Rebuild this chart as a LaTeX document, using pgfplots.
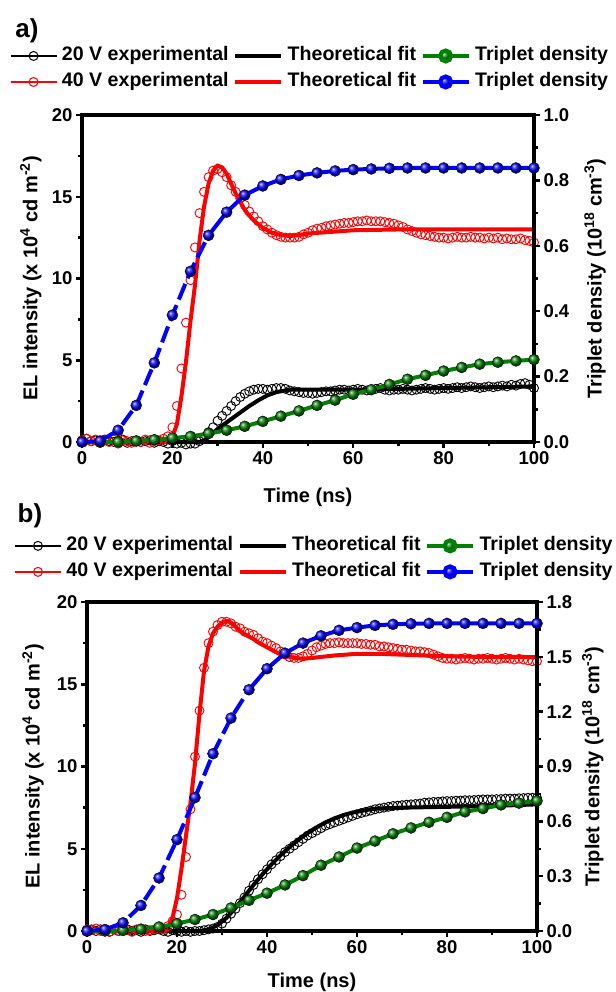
\documentclass[border=0pt]{standalone}
\usepackage{fontspec}
\setmainfont{Liberation Sans}
\usepackage{pgfplots}
\pgfplotsset{compat=1.18}
\definecolor{tgreen}{RGB}{0,128,0}
\pgfplotsset{
 base/.style={scale only axis, xmin=0, xmax=100, clip=false,
   tick align=outside, major tick length=6pt, minor tick length=4pt,
   every tick/.style={black, line width=2.5pt},
   axis line style={line width=3.5pt},
   tick label style={font=\fontsize{18.5}{20}\selectfont\bfseries},
   label style={font=\fontsize{20}{24}\selectfont\bfseries},
   /pgf/number format/assume math mode=true},
 exp/.style={only marks, mark=o, mark size=4.5pt, mark options={line width=0.9pt, solid}},
 expleg/.style={line width=1.8pt, mark=o, mark size=4.5pt, mark options={line width=1pt, solid, fill=white}},
 fit/.style={line width=4pt, no markers},
 trip/.style={line width=4pt, mark=ball, mark size=5.5pt},
 legend image code/.code={\draw[mark repeat=2,mark phase=2,#1] plot coordinates {(0pt,0pt) (23pt,0pt) (46pt,0pt)};},
 mylegend/.style={legend columns=3, legend cell align=left,
   legend style={draw=none, fill=none, inner sep=0pt, outer sep=0pt,
     font=\fontsize{19.6}{22}\selectfont\bfseries,
     nodes={inner sep=0pt, outer sep=0pt, text height=14pt, text depth=4pt},
     row sep=8pt, column sep=0pt,
     /tikz/every odd column/.append style={column sep=4.5pt},
     /tikz/every even column/.append style={column sep=4.5pt}}},
}
\begin{document}
\begin{tikzpicture}
\useasboundingbox (0pt,0pt) rectangle (615pt,-992pt);
% ---------------- panel a, left axis
\begin{axis}[base, at={(82pt,-442pt)}, anchor=south west, width=452pt, height=327pt,
  ymin=0, ymax=20, ytick={0,5,10,15,20}, xtick={0,20,40,60,80,100}, minor tick num=1,
  xtick pos=bottom, ytick pos=left,
  xlabel={Time (ns)}, ylabel={EL intensity (x 10\textsuperscript{4} cd m\textsuperscript{-2})},
  xlabel style={at={(axis description cs:0.5,-0.168)}, anchor=center},
  ylabel style={at={(axis description cs:-0.113,0.5)}, anchor=center}]
\addplot[exp, black] coordinates {(0,0.1)(1,0.2)(2,0.05)(3,0.1)(4,-0.05)(5,0.15)(6,0.05)(7,0.0)(8,0.1)(9,0.15)(10,-0.05)(11,0.05)(12,0.1)(13,0.0)(14,0.05)(15,0.1)(16,-0.05)(17,0.05)(18,0.0)(19,-0.1)(20,0.05)(21,-0.1)(22,-0.05)(23,-0.15)(24,-0.1)(25,-0.1)(26,0.05)(27,0.3)(28,0.6)(29,0.9)(30,1.3)(31,1.6)(32,1.9)(33,2.2)(34,2.5)(35,2.75)(36,2.95)(37,3.1)(38,3.2)(39,3.25)(40,3.25)(41,3.2)(42,3.25)(43,3.3)(44,3.3)(45,3.25)(46,3.15)(47,3.1)(48,3.05)(49,3.0)(50,3.0)(51,2.95)(52,3.0)(53,3.05)(54,3.1)(55,3.1)(56,3.15)(57,3.2)(58,3.2)(59,3.15)(60,3.2)(61,3.25)(62,3.2)(63,3.15)(64,3.2)(65,3.25)(66,3.3)(67,3.2)(68,3.15)(69,3.2)(70,3.2)(71,3.25)(72,3.2)(73,3.15)(74,3.2)(75,3.25)(76,3.3)(77,3.25)(78,3.2)(79,3.25)(80,3.3)(81,3.25)(82,3.3)(83,3.35)(84,3.3)(85,3.35)(86,3.4)(87,3.35)(88,3.3)(89,3.35)(90,3.4)(91,3.35)(92,3.4)(93,3.45)(94,3.4)(95,3.5)(96,3.45)(97,3.55)(98,3.6)(99,3.5)(100,3.3)};
\addplot[fit, black] coordinates {(0,0)(26,0)(27,0.1)(28,0.3)(29,0.55)(30,0.8)(31,1.0)(32,1.2)(33,1.4)(34,1.6)(35,1.8)(36,2.0)(37,2.2)(38,2.37)(39,2.55)(40,2.7)(41,2.85)(42,2.95)(43,3.05)(44,3.1)(45,3.15)(46,3.2)(50,3.2)(60,3.2)(70,3.25)(80,3.3)(90,3.35)(100,3.4)};
\addplot[exp, red] coordinates {(0,0.1)(1,0.2)(2,0.05)(3,0.15)(4,-0.05)(5,0.1)(6,0.0)(7,0.15)(8,-0.1)(9,0.1)(10,0.05)(11,-0.05)(12,0.1)(13,0.0)(14,0.15)(15,-0.05)(16,0.05)(17,0.1)(18,0.2)(19,0.35)(20,0.9)(21,2.2)(22,4.5)(23,7.3)(24,9.9)(25,11.9)(26,14.0)(27,15.3)(28,16.2)(29,16.6)(30,16.7)(31,16.5)(32,16.2)(33,15.7)(34,15.3)(35,14.9)(36,14.5)(37,14.1)(38,13.8)(39,13.5)(40,13.2)(41,13.0)(42,12.8)(43,12.65)(44,12.55)(45,12.5)(46,12.5)(47,12.5)(48,12.55)(49,12.7)(50,12.8)(51,12.95)(52,13.05)(53,13.1)(54,13.2)(55,13.25)(56,13.3)(57,13.35)(58,13.4)(59,13.4)(60,13.45)(61,13.5)(62,13.5)(63,13.55)(64,13.5)(65,13.5)(66,13.5)(67,13.45)(68,13.4)(69,13.35)(70,13.25)(71,13.15)(72,13.0)(73,12.9)(74,12.8)(75,12.7)(76,12.65)(77,12.6)(78,12.55)(79,12.5)(80,12.5)(81,12.45)(82,12.5)(83,12.55)(84,12.5)(85,12.5)(86,12.55)(87,12.5)(88,12.5)(89,12.45)(90,12.5)(91,12.45)(92,12.5)(93,12.4)(94,12.45)(95,12.4)(96,12.4)(97,12.45)(98,12.35)(99,12.3)(100,12.2)};
\addplot[fit, red] coordinates {(0,0)(19,0)(20,0.3)(21,1.1)(22,2.8)(23,4.9)(24,7.4)(25,9.6)(26,12.3)(27,14.4)(28,15.8)(29,16.6)(30,16.9)(31,16.8)(32,16.4)(33,15.8)(34,15.2)(35,14.7)(36,14.2)(37,13.85)(38,13.55)(40,13.1)(42,12.8)(44,12.65)(46,12.6)(48,12.65)(50,12.75)(55,12.85)(60,12.95)(70,13.0)(80,13.0)(100,13.0)};
\node[anchor=west, font=\fontsize{26}{30}\selectfont\bfseries] at (rel axis cs:-0.155,1.258) {a)};
\end{axis}
% ---------------- panel a, right axis
\begin{axis}[base, at={(82pt,-442pt)}, anchor=south west, width=452pt, height=327pt,
  axis x line=none, axis y line*=right,
  ymin=0, ymax=1, ytick={0,0.2,0.4,0.6,0.8,1.0}, minor y tick num=1,
  yticklabel style={/pgf/number format/.cd, fixed, fixed zerofill, precision=1},
  ylabel={Triplet density (10\textsuperscript{18} cm\textsuperscript{-3})},
  ylabel style={at={(axis description cs:1.135,0.5)}, anchor=center},
  mylegend, legend style={at={(-0.16,1.208)}, anchor=north west}]
\addlegendimage{expleg, black}\addlegendentry{20 V experimental}
\addlegendimage{fit, black}\addlegendentry{Theoretical fit}
\addlegendimage{trip, tgreen, mark options={ball color=tgreen}}\addlegendentry{Triplet density}
\addlegendimage{expleg, red}\addlegendentry{40 V experimental}
\addlegendimage{fit, red}\addlegendentry{Theoretical fit}
\addlegendimage{trip, blue, mark options={ball color=blue}}\addlegendentry{Triplet density}
\addplot[tgreen, line width=4pt, no markers, forget plot] coordinates {(0,0)(4,0)(8,0.0)(12,0.003)(16,0.007)(20,0.012)(24,0.017)(28,0.026)(32,0.036)(36,0.048)(40,0.063)(44,0.079)(48,0.095)(52,0.112)(56,0.128)(60,0.146)(64,0.160)(68,0.176)(72,0.192)(76,0.204)(80,0.217)(84,0.228)(88,0.238)(92,0.244)(96,0.248)(100,0.252)};
\addplot[only marks, mark=ball, ball color=tgreen, mark size=5.5pt, forget plot] coordinates {(0,0)(4,0)(8,0.0)(12,0.003)(16,0.007)(20,0.012)(24,0.017)(28,0.026)(32,0.036)(36,0.048)(40,0.063)(44,0.079)(48,0.095)(52,0.112)(56,0.128)(60,0.146)(64,0.160)(68,0.176)(72,0.192)(76,0.204)(80,0.217)(84,0.228)(88,0.238)(92,0.244)(96,0.248)(100,0.252)};
\addplot[blue, line width=4pt, dash pattern=on 17pt off 6pt, no markers, forget plot] coordinates {(0,0)(4,0.003)(8,0.036)(12,0.112)(16,0.242)(20,0.388)(24,0.522)(28,0.632)};
\addplot[blue, line width=4pt, no markers, forget plot] coordinates {(28,0.632)(32,0.703)(36,0.755)(40,0.783)(44,0.803)(48,0.815)(52,0.823)(56,0.829)(60,0.833)(64,0.835)(68,0.837)(72,0.838)(76,0.838)(80,0.838)(84,0.838)(88,0.838)(92,0.838)(96,0.838)(100,0.838)};
\addplot[only marks, mark=ball, ball color=blue, mark size=5.5pt, forget plot] coordinates {(0,0)(4,0.003)(8,0.036)(12,0.112)(16,0.242)(20,0.388)(24,0.522)(28,0.632)(32,0.703)(36,0.755)(40,0.783)(44,0.803)(48,0.815)(52,0.823)(56,0.829)(60,0.833)(64,0.835)(68,0.837)(72,0.838)(76,0.838)(80,0.838)(84,0.838)(88,0.838)(92,0.838)(96,0.838)(100,0.838)};
\end{axis}
% ---------------- panel b, left axis
\begin{axis}[base, at={(87pt,-931pt)}, anchor=south west, width=450pt, height=329pt,
  ymin=0, ymax=20, ytick={0,5,10,15,20}, xtick={0,20,40,60,80,100}, minor tick num=1,
  xtick pos=bottom, ytick pos=left,
  xlabel={Time (ns)}, ylabel={EL intensity (x 10\textsuperscript{4} cd m\textsuperscript{-2})},
  xlabel style={at={(axis description cs:0.5,-0.155)}, anchor=center},
  ylabel style={at={(axis description cs:-0.12,0.5)}, anchor=center}]
\addplot[exp, black] coordinates {(0,0.05)(1,0.1)(2,0.0)(3,0.1)(4,0.05)(5,-0.05)(6,0.1)(7,0.0)(8,0.05)(9,0.1)(10,0.0)(11,0.05)(12,-0.05)(13,0.1)(14,0.0)(15,0.05)(16,0.1)(17,0.0)(18,-0.05)(19,0.05)(20,0.0)(21,-0.05)(22,0.0)(23,-0.05)(24,0.0)(25,0.0)(26,0.05)(27,0.1)(28,0.15)(29,0.25)(30,0.45)(31,0.75)(32,1.05)(33,1.35)(34,1.7)(35,2.05)(36,2.45)(37,2.8)(38,3.15)(39,3.45)(40,3.75)(41,4.05)(42,4.3)(43,4.55)(44,4.8)(45,5.0)(46,5.2)(47,5.4)(48,5.6)(49,5.8)(50,5.95)(51,6.1)(52,6.25)(53,6.4)(54,6.5)(55,6.6)(56,6.7)(57,6.8)(58,6.9)(59,7.0)(60,7.1)(61,7.18)(62,7.25)(63,7.32)(64,7.4)(65,7.45)(66,7.5)(67,7.55)(68,7.6)(69,7.62)(70,7.65)(71,7.68)(72,7.7)(73,7.72)(74,7.75)(75,7.8)(76,7.82)(77,7.85)(78,7.85)(79,7.88)(80,7.9)(81,7.9)(82,7.92)(83,7.93)(84,7.95)(85,7.95)(86,7.96)(87,7.98)(88,8.0)(89,8.0)(90,8.0)(91,8.02)(92,8.02)(93,8.05)(94,8.05)(95,8.05)(96,8.07)(97,8.08)(98,8.1)(99,8.1)(100,8.1)};
\addplot[fit, black] coordinates {(0,0)(25,0)(27,0.08)(29,0.35)(31,0.8)(33,1.4)(35,2.1)(37,2.8)(39,3.45)(41,4.05)(43,4.6)(45,5.1)(47,5.55)(49,5.95)(51,6.3)(53,6.6)(55,6.85)(57,7.05)(59,7.2)(61,7.3)(63,7.4)(65,7.45)(70,7.5)(80,7.55)(90,7.6)(100,7.7)};
\addplot[exp, red] coordinates {(0,0.1)(1,0.05)(2,0.15)(3,0.0)(4,0.1)(5,-0.05)(6,0.1)(7,0.0)(8,0.15)(9,0.05)(10,-0.05)(11,0.1)(12,0.15)(13,0.0)(14,0.05)(15,0.1)(16,0.15)(17,0.1)(18,0.3)(19,0.6)(20,1.0)(21,2.2)(22,4.5)(23,7.4)(24,10.6)(25,13.4)(26,16.0)(27,17.5)(28,18.2)(29,18.6)(30,18.8)(31,18.8)(32,18.7)(33,18.5)(34,18.4)(35,18.2)(36,18.1)(37,18.0)(38,17.8)(39,17.6)(40,17.5)(41,17.35)(42,17.2)(43,17.0)(44,16.8)(45,16.65)(46,16.6)(47,16.6)(48,16.7)(49,16.85)(50,17.05)(51,17.25)(52,17.35)(53,17.45)(54,17.5)(55,17.5)(56,17.55)(57,17.5)(58,17.5)(59,17.5)(60,17.5)(61,17.45)(62,17.45)(63,17.4)(64,17.4)(65,17.3)(66,17.3)(67,17.25)(68,17.2)(69,17.15)(70,17.1)(71,17.1)(72,17.05)(73,17.0)(74,17.0)(75,16.95)(76,16.9)(77,16.8)(78,16.7)(79,16.6)(80,16.55)(81,16.55)(82,16.5)(83,16.55)(84,16.6)(85,16.55)(86,16.5)(87,16.55)(88,16.55)(89,16.6)(90,16.55)(91,16.5)(92,16.55)(93,16.6)(94,16.55)(95,16.5)(96,16.55)(97,16.5)(98,16.45)(99,16.4)(100,16.4)};
\addplot[fit, red] coordinates {(0,0)(17.5,0)(18,0.2)(19,0.8)(20,2.0)(21,3.8)(22,5.8)(23,7.8)(24,10.2)(25,13.2)(26,15.8)(27,17.3)(28,18.1)(29,18.5)(30,18.75)(31,18.85)(32,18.75)(33,18.5)(34,18.25)(35,18.05)(36,17.9)(37,17.75)(38,17.55)(40,17.25)(42,16.95)(44,16.75)(46,16.6)(48,16.55)(50,16.6)(55,16.75)(60,16.85)(65,16.85)(70,16.8)(80,16.7)(90,16.65)(100,16.65)};
\node[anchor=west, font=\fontsize{26}{30}\selectfont\bfseries] at (rel axis cs:-0.162,1.261) {b)};
\end{axis}
% ---------------- panel b, right axis
\begin{axis}[base, at={(87pt,-931pt)}, anchor=south west, width=450pt, height=329pt,
  axis x line=none, axis y line*=right,
  ymin=0, ymax=1.8, ytick={0,0.3,0.6,0.9,1.2,1.5,1.8}, minor y tick num=1,
  yticklabel style={/pgf/number format/.cd, fixed, fixed zerofill, precision=1},
  ylabel={Triplet density (10\textsuperscript{18} cm\textsuperscript{-3})},
  ylabel style={at={(axis description cs:1.124,0.5)}, anchor=center},
  mylegend, legend style={at={(-0.162,1.198)}, anchor=north west}]
\addlegendimage{expleg, black}\addlegendentry{20 V experimental}
\addlegendimage{fit, black}\addlegendentry{Theoretical fit}
\addlegendimage{trip, tgreen, mark options={ball color=tgreen}}\addlegendentry{Triplet density}
\addlegendimage{expleg, red}\addlegendentry{40 V experimental}
\addlegendimage{fit, red}\addlegendentry{Theoretical fit}
\addlegendimage{trip, blue, mark options={ball color=blue}}\addlegendentry{Triplet density}
\addplot[tgreen, line width=4pt, no markers, forget plot] coordinates {(0,0)(4,0)(8,0.003)(12,0.01)(16,0.022)(20,0.04)(24,0.063)(28,0.09)(32,0.126)(36,0.168)(40,0.207)(44,0.252)(48,0.303)(52,0.36)(56,0.405)(60,0.454)(64,0.492)(68,0.532)(72,0.564)(76,0.595)(80,0.622)(84,0.652)(88,0.67)(92,0.69)(96,0.70)(100,0.712)};
\addplot[only marks, mark=ball, ball color=tgreen, mark size=5.5pt, forget plot] coordinates {(0,0)(4,0)(8,0.003)(12,0.01)(16,0.022)(20,0.04)(24,0.063)(28,0.09)(32,0.126)(36,0.168)(40,0.207)(44,0.252)(48,0.303)(52,0.36)(56,0.405)(60,0.454)(64,0.492)(68,0.532)(72,0.564)(76,0.595)(80,0.622)(84,0.652)(88,0.67)(92,0.69)(96,0.70)(100,0.712)};
\addplot[blue, line width=4pt, dash pattern=on 17pt off 6pt, no markers, forget plot] coordinates {(0,0)(4,0.008)(8,0.045)(12,0.14)(16,0.29)(20,0.50)(24,0.73)(28,0.97)(32,1.165)(36,1.32)};
\addplot[blue, line width=4pt, no markers, forget plot] coordinates {(36,1.32)(40,1.435)(44,1.52)(48,1.575)(52,1.615)(56,1.645)(60,1.66)(64,1.672)(68,1.678)(72,1.681)(76,1.683)(80,1.683)(84,1.683)(88,1.683)(92,1.683)(96,1.683)(100,1.683)};
\addplot[only marks, mark=ball, ball color=blue, mark size=5.5pt, forget plot] coordinates {(0,0)(4,0.008)(8,0.045)(12,0.14)(16,0.29)(20,0.50)(24,0.73)(28,0.97)(32,1.165)(36,1.32)(40,1.435)(44,1.52)(48,1.575)(52,1.615)(56,1.645)(60,1.66)(64,1.672)(68,1.678)(72,1.681)(76,1.683)(80,1.683)(84,1.683)(88,1.683)(92,1.683)(96,1.683)(100,1.683)};
\end{axis}
\end{tikzpicture}
\end{document}
